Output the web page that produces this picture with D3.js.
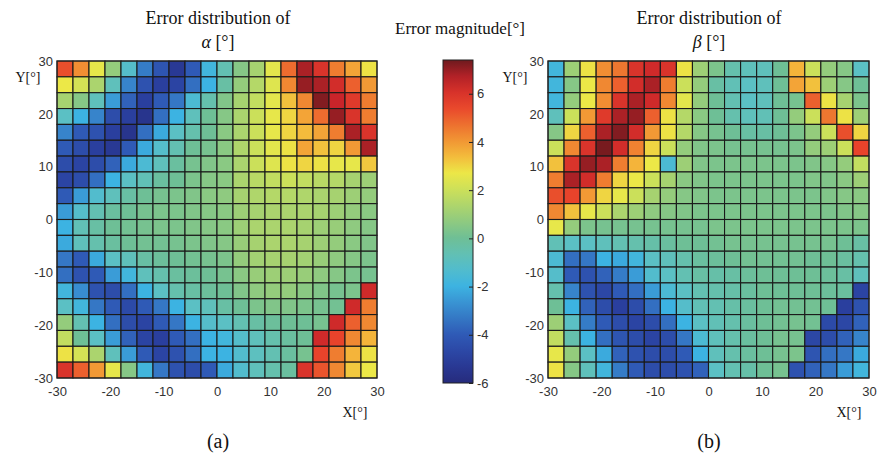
<!DOCTYPE html>
<html>
<head>
<meta charset="utf-8">
<title>Error distribution</title>
<script src="https://cdn.jsdelivr.net/npm/d3@7"></script>
<style>
  body { margin: 0; background: #fff; }
  .tick text { font-family: "Liberation Sans", Arial, sans-serif; font-size: 13px; fill: #333; }
  .serif { font-family: "Liberation Serif", "Times New Roman", serif; fill: #111; }
</style>
</head>
<body>
<div id="chart"></div>
<script>
// axis ticks (degrees) and colour bar ticks
var axisTicks = [-30, -20, -10, 0, 10, 20, 30];
var colorTicks = [-6, -4, -2, 0, 2, 4, 6];
var colorRange = [-6, 7.4];

// error of alpha, rows from Y=30 (top) down to Y=-30, columns X=-30 .. 30
var alphaErr = [
  [5.3, 4.2, 2.6, 0.8, -1.2, -3.2, -4.2, -5.3, -4.0, -1.8, -0.6, 0.5, 1.2, 2.5, 4.8, 6.8, 6.0, 4.5, 3.8, 2.8],
  [2.7, 2.2, 1.3, -0.8, -3.0, -4.3, -5.0, -4.8, -3.5, -2.0, -0.3, 0.8, 1.5, 2.4, 4.3, 7.0, 6.8, 6.2, 5.0, 4.0],
  [1.2, 0.5, -0.8, -2.5, -3.8, -5.0, -4.0, -3.3, -1.5, -0.5, 0.4, 1.2, 1.8, 2.5, 3.3, 4.3, 7.2, 6.5, 5.8, 4.5],
  [-1.0, -2.0, -3.0, -4.5, -5.0, -5.5, -3.5, -2.0, -0.8, 0.0, 0.5, 1.3, 2.0, 2.6, 3.0, 3.8, 4.8, 7.0, 6.0, 4.5],
  [-3.0, -4.0, -4.3, -5.0, -5.5, -3.5, -2.2, -1.0, -0.5, 0.0, 0.6, 1.3, 2.0, 2.6, 3.0, 3.4, 3.8, 4.5, 6.8, 6.0],
  [-4.0, -4.5, -5.0, -5.3, -4.0, -2.2, -1.2, -0.6, 0.0, 0.2, 0.6, 1.4, 2.0, 2.5, 2.8, 3.8, 3.3, 3.0, 4.0, 6.8],
  [-4.5, -4.8, -4.5, -3.8, -2.2, -1.5, -0.8, -0.2, 0.2, 0.4, 0.6, 1.3, 2.0, 2.4, 2.8, 3.0, 2.8, 2.6, 2.6, 3.2],
  [-4.8, -4.5, -3.5, -2.0, -1.0, -0.7, -0.2, 0.0, 0.3, 0.5, 0.6, 1.3, 1.6, 1.8, 2.0, 1.8, 1.6, 1.5, 1.2, 1.0],
  [-4.0, -2.5, -1.3, -0.8, -0.3, 0.0, 0.2, 0.3, 0.4, 0.6, 0.7, 1.2, 1.4, 1.5, 1.5, 1.4, 1.3, 1.2, 1.0, 0.8],
  [-2.5, -1.2, -0.6, -0.2, 0.0, 0.2, 0.3, 0.3, 0.4, 0.5, 0.6, 1.0, 1.2, 1.3, 1.3, 1.3, 1.2, 1.0, 0.8, 0.6],
  [-2.0, -0.7, -0.3, 0.0, 0.1, 0.2, 0.3, 0.3, 0.4, 0.5, 0.6, 1.0, 1.3, 1.3, 1.3, 1.2, 1.0, 0.9, 0.7, 0.5],
  [-2.2, -0.8, -0.5, -0.2, 0.0, 0.1, 0.1, 0.2, 0.3, 0.4, 0.5, 0.9, 1.2, 1.3, 1.3, 1.2, 1.0, 0.8, 0.6, 0.4],
  [-3.3, -4.0, -2.2, -1.0, -0.8, -0.3, -0.1, 0.0, 0.1, 0.2, 0.3, 0.8, 1.1, 1.2, 1.2, 1.1, 0.9, 0.7, 0.5, 0.3],
  [-3.5, -4.3, -4.0, -2.5, -1.8, -0.8, -0.5, -0.2, -0.1, 0.0, 0.2, 0.6, 0.9, 1.0, 1.0, 0.9, 0.7, 0.5, 0.3, 0.2],
  [-1.8, -2.8, -4.3, -4.5, -3.5, -2.0, -1.0, -0.5, -0.3, -0.1, 0.0, 0.4, 0.7, 0.8, 0.8, 0.6, 0.4, 0.2, 0.3, 6.3],
  [-1.0, -1.8, -3.3, -4.0, -4.6, -4.0, -3.3, -2.0, -1.0, -0.8, -0.3, 0.0, 0.3, 0.4, 0.4, 0.3, 0.2, 0.1, 6.3, 4.5],
  [0.8, -0.6, -2.0, -3.5, -4.5, -4.8, -4.0, -3.3, -2.0, -1.2, -1.0, -0.6, -0.3, -0.1, 0.0, 0.0, 0.2, 6.3, 5.0, 4.3],
  [1.8, 0.0, -1.0, -2.5, -3.8, -4.8, -5.0, -4.0, -3.5, -2.0, -1.8, -1.2, -0.8, -0.5, -0.2, 0.0, 6.3, 5.5, 4.3, 3.5],
  [2.8, 2.2, 1.3, -0.8, -2.5, -4.0, -4.8, -4.3, -3.5, -2.0, -2.0, -1.3, -0.9, -0.6, -0.2, 0.2, 5.5, 4.5, 3.5, 2.8],
  [6.0, 5.0, 4.0, 2.6, 0.5, -1.8, -3.3, -4.3, -4.5, -4.0, -2.2, -1.3, -0.8, -0.5, -0.2, 6.0, 5.2, 4.3, 3.2, 2.7]
];

// error of beta, same layout
var betaErr = [
  [-1.8, 1.0, 2.8, 4.2, 4.6, 6.0, 6.3, 6.0, 2.8, 1.0, 0.3, -0.5, -0.8, -0.8, 0.0, 3.5, 2.0, 0.8, 0.5, -1.0],
  [-1.8, 0.5, 2.7, 4.3, 5.0, 6.2, 6.8, 4.5, 2.0, 0.8, -0.3, -0.7, -1.0, -0.8, 0.0, 3.8, 3.3, 1.0, 0.5, 0.0],
  [-1.8, 0.8, 2.7, 4.2, 6.0, 6.8, 6.3, 4.3, 2.5, 0.8, 0.0, -0.6, -1.0, -0.8, 0.0, 0.2, 5.0, 2.8, 1.2, 0.3],
  [-0.8, 2.0, 4.0, 5.8, 6.8, 7.0, 5.0, 2.8, 1.5, 0.6, 0.0, -0.5, -0.8, -0.7, 0.0, 0.8, 2.0, 4.6, 2.8, 1.0],
  [0.5, 3.0, 5.0, 6.8, 7.2, 6.2, 4.0, 2.8, 1.5, 0.5, 0.2, 0.0, -0.3, -0.3, 0.0, 0.3, 0.8, 2.0, 5.3, 3.0],
  [2.0, 4.3, 6.0, 7.3, 6.2, 4.4, 3.0, 2.0, 0.8, 0.4, 0.3, 0.2, 0.2, 0.2, 0.2, 0.3, 0.8, 1.0, 2.0, 5.5],
  [3.3, 6.0, 7.0, 6.8, 4.5, 3.5, 2.7, -1.5, 1.0, 0.4, 0.3, 0.3, 0.3, 0.3, 0.3, 0.3, 0.4, 0.5, 0.8, 1.8],
  [4.5, 6.8, 6.2, 4.5, 3.0, 2.7, 2.0, 1.2, 0.6, 0.4, 0.3, 0.3, 0.3, 0.3, 0.3, 0.3, 0.4, 0.4, 0.6, 1.0],
  [5.3, 5.5, 4.0, 3.0, 2.6, 2.0, 1.2, 0.8, 0.5, 0.4, 0.3, 0.3, 0.3, 0.3, 0.3, 0.3, 0.3, 0.4, 0.5, 0.6],
  [4.3, 3.3, 2.6, 2.0, 1.3, 1.0, 0.7, 0.5, 0.4, 0.3, 0.3, 0.3, 0.3, 0.3, 0.3, 0.3, 0.3, 0.3, 0.4, 0.5],
  [2.6, 0.8, 0.3, 0.2, 0.2, 0.2, 0.2, 0.2, 0.2, 0.2, 0.3, 0.3, 0.3, 0.3, 0.3, 0.3, 0.3, 0.3, 0.3, 0.3],
  [-0.7, -1.0, -1.0, -0.8, -0.6, -0.5, -0.4, -0.2, 0.0, 0.0, 0.1, 0.2, 0.2, 0.2, 0.2, 0.2, 0.2, 0.2, 0.0, -0.3],
  [-1.5, -3.5, -3.3, -2.0, -2.2, -1.8, -1.0, -0.8, -0.5, -0.2, -0.1, 0.0, 0.1, 0.1, 0.1, 0.1, 0.0, 0.0, -0.2, -0.5],
  [-1.2, -4.0, -4.3, -3.8, -3.2, -2.5, -1.3, -1.0, -0.6, -0.3, -0.4, -0.3, -0.1, 0.0, 0.0, 0.0, 0.0, -0.1, -0.3, -0.8],
  [-0.5, -3.0, -4.3, -4.7, -4.0, -3.5, -2.5, -1.5, -1.0, -0.6, -0.5, -0.4, -0.2, 0.0, 0.0, 0.0, 0.0, -0.1, -0.2, -4.8],
  [0.0, -2.0, -3.8, -4.5, -5.0, -4.5, -3.5, -2.0, -1.2, -0.7, -0.6, -0.4, -0.2, 0.0, 0.1, 0.1, 0.1, 0.0, -5.0, -4.3],
  [1.0, -1.0, -3.2, -4.0, -4.5, -4.8, -4.5, -3.5, -2.0, -1.0, -0.7, -0.5, -0.2, 0.0, 0.1, 0.2, 0.1, -4.6, -4.7, -3.8],
  [1.8, -0.5, -2.0, -3.5, -4.2, -4.5, -4.8, -4.5, -3.3, -1.5, -0.8, -0.5, -0.2, 0.0, 0.2, 0.2, -4.7, -4.5, -3.8, -3.0],
  [2.6, 0.8, -1.0, -2.2, -3.8, -4.3, -4.5, -4.5, -4.0, -2.0, -0.8, -0.5, -0.2, 0.0, 0.2, 0.3, -4.2, -3.5, -3.3, -2.2],
  [2.8, 0.5, -0.8, -1.8, -3.2, -4.0, -4.5, -4.5, -4.3, -3.8, -1.0, -0.6, -0.4, 0.0, 0.2, -4.3, -3.8, -3.3, -2.5, -1.8]
];

var svg = d3.select("#chart").append("svg")
    .attr("width", 880)
    .attr("height", 464);

// washed-out jet colormap, sampled from the printed colour bar
var color = d3.scaleLinear()
    .domain([-6, -5, -4, -3, -2, -1, 0, 1, 2, 2.7, 3.5, 4.5, 5.5, 6.5, 7.4])
    .range(["#262b7c", "#2a3f9e", "#2f5ab6", "#3784cb", "#3cb3e2", "#5bc0c4", "#6ebf96",
            "#9dcf76", "#cbe05a", "#ece847", "#f4b43a", "#ef7d30", "#e8432b", "#c9242a", "#6e1a1e"])
    .clamp(true);

// plain hyphen minus like the original figure
var fmt = function (d) { return String(d); };

function drawPanel(grid, left, top, w, h, symbol, cx, yLabelX, xLabelX, tag) {
    var n = grid.length;
    var g = svg.append("g");

    var col = d3.scaleBand().domain(d3.range(n)).range([left, left + w]);
    var row = d3.scaleBand().domain(d3.range(n)).range([top, top + h]);
    var x = d3.scaleLinear().domain([-30, 30]).range([left, left + w]);
    var y = d3.scaleLinear().domain([-30, 30]).range([top + h, top]);

    var cells = [];
    grid.forEach(function (r, i) {
        r.forEach(function (v, j) { cells.push({i: i, j: j, v: v}); });
    });

    g.selectAll("rect.cell")
        .data(cells)
        .enter().append("rect")
        .attr("class", "cell")
        .attr("x", function (d) { return col(d.j); })
        .attr("y", function (d) { return row(d.i); })
        .attr("width", col.bandwidth())
        .attr("height", row.bandwidth())
        .attr("fill", function (d) { return color(d.v); })
        .attr("stroke", "#1a1a1a")
        .attr("stroke-width", 1.1);

    g.append("rect")
        .attr("x", left).attr("y", top)
        .attr("width", w).attr("height", h)
        .attr("fill", "none")
        .attr("stroke", "#222")
        .attr("stroke-width", 1);

    var xa = g.append("g")
        .attr("transform", "translate(0," + (top + h) + ")")
        .call(d3.axisBottom(x).tickValues(axisTicks).tickFormat(fmt).tickSize(0).tickPadding(9));
    xa.select(".domain").remove();

    var ya = g.append("g")
        .attr("transform", "translate(" + left + ",0)")
        .call(d3.axisLeft(y).tickValues(axisTicks).tickFormat(fmt).tickSize(0).tickPadding(4));
    ya.select(".domain").remove();

    // titles
    var t = g.append("text").attr("class", "serif")
        .attr("x", cx).attr("text-anchor", "middle").style("font-size", "18px");
    t.append("tspan").attr("x", cx).attr("y", 24).text("Error distribution of");
    var t2 = t.append("tspan").attr("x", cx).attr("y", 48);
    t2.append("tspan").style("font-style", "italic").text(symbol);
    t2.append("tspan").text(" [°]");

    g.append("text").attr("class", "serif")
        .attr("x", yLabelX).attr("y", 82)
        .attr("text-anchor", "middle").style("font-size", "14px")
        .text("Y[°]");
    g.append("text").attr("class", "serif")
        .attr("x", xLabelX).attr("y", 417)
        .attr("text-anchor", "middle").style("font-size", "14px")
        .text("X[°]");
    g.append("text").attr("class", "serif")
        .attr("x", cx).attr("y", 448)
        .attr("text-anchor", "middle").style("font-size", "20px")
        .text(tag);
}

drawPanel(alphaErr, 57, 61, 320, 317, "α", 218, 28, 355, "(a)");
drawPanel(betaErr, 548, 61, 321, 317, "β", 709, 515, 849, "(b)");

// colour bar
var cbLeft = 443, cbTop = 60, cbW = 30, cbH = 323;
var cbScale = d3.scaleLinear().domain(colorRange).range([cbTop + cbH, cbTop]);

var defs = svg.append("defs");
var grad = defs.append("linearGradient")
    .attr("id", "cbGrad")
    .attr("x1", "0").attr("y1", "1").attr("x2", "0").attr("y2", "0");
d3.range(0, 1.0001, 0.05).forEach(function (f) {
    grad.append("stop")
        .attr("offset", f)
        .attr("stop-color", color(colorRange[0] + f * (colorRange[1] - colorRange[0])));
});

svg.append("rect")
    .attr("x", cbLeft).attr("y", cbTop)
    .attr("width", cbW).attr("height", cbH)
    .attr("fill", "url(#cbGrad)")
    .attr("stroke", "#222").attr("stroke-width", 1);

var cba = svg.append("g")
    .attr("transform", "translate(" + (cbLeft + cbW) + ",0)")
    .call(d3.axisRight(cbScale).tickValues(colorTicks).tickFormat(fmt).tickSize(-4).tickPadding(4));
cba.select(".domain").remove();
cba.selectAll(".tick line").attr("stroke", "#222");

svg.append("text").attr("class", "serif")
    .attr("x", 460).attr("y", 34)
    .attr("text-anchor", "middle").style("font-size", "17px")
    .text("Error magnitude[°]");
</script>
</body>
</html>
